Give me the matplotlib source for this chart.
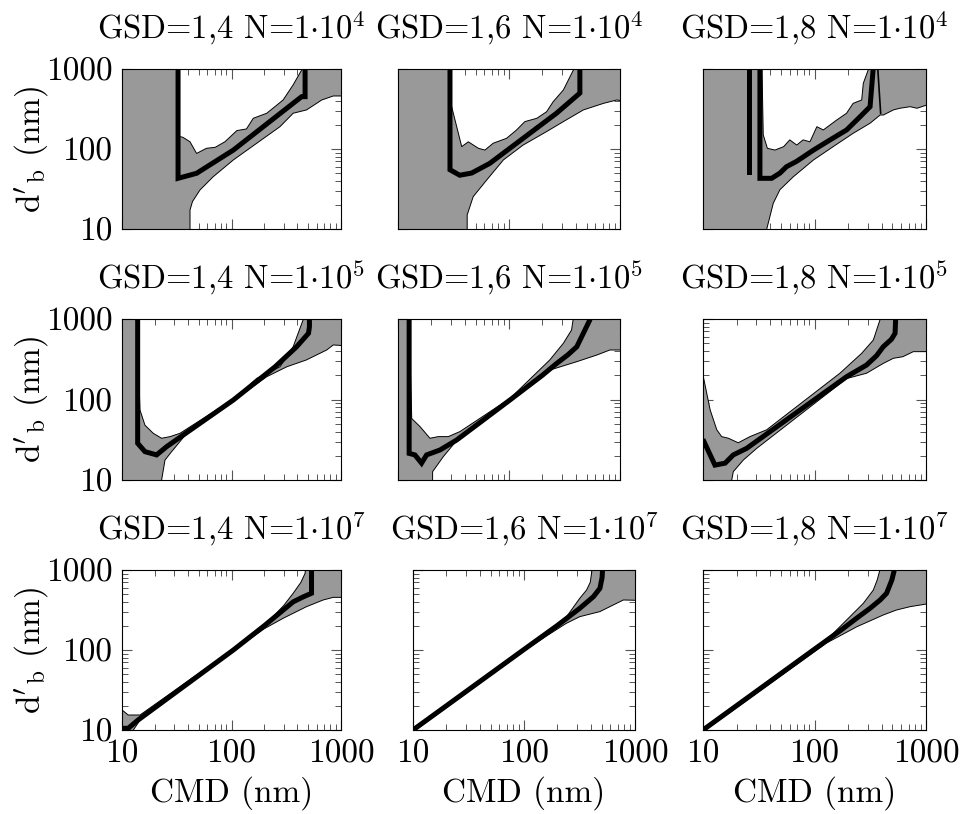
import numpy as np
import matplotlib
matplotlib.use("Agg")
import matplotlib.pyplot as plt
from matplotlib.ticker import NullFormatter

plt.rcParams["font.family"] = "cmr10"
plt.rcParams["mathtext.fontset"] = "cm"
plt.rcParams["axes.formatter.use_mathtext"] = True

# column / row descriptors
gsd_labels = ["1,4", "1,6", "1,8"]
n_exponents = ["4", "5", "7"]
tick_values = [10, 100, 1000]
tick_labels = ["10", "100", "1000"]

# ---- GSD=1,4 N=1e4
up_x_00 = [8, 32.5, 32.5, 36, 41.8, 48, 59, 71, 87, 112, 137, 158, 210, 296, 365, 437, 450, 1250]
up_y_00 = [2000, 2000, 145, 140, 123, 88, 102, 105, 123, 170, 178, 242, 280, 410, 631, 970, 2000, 2000]
lo_x_00 = [8, 41.8, 41.8, 44, 51.5, 68, 104, 170, 277, 366, 485, 667, 850, 1250]
lo_y_00 = [5, 5, 17.3, 22, 30.7, 45, 73, 118, 190, 280, 308, 410, 460, 460]
med_x_00 = [32.5, 32.5, 48, 104, 437, 470, 470]
med_y_00 = [2000, 43, 49.7, 97, 451, 451, 2000]

# ---- GSD=1,6 N=1e4
up_x_01 = [8, 29.4, 29.4, 37.5, 43, 53, 60.7, 72, 95, 117, 139, 178, 218, 250, 309, 380, 395, 1250]
up_y_01 = [2000, 2000, 410, 107, 123, 102, 97, 118, 136, 173, 220, 242, 292, 390, 547, 970, 2000, 2000]
lo_x_01 = [8, 42, 42, 47.6, 63, 89, 134, 218, 309, 468, 710, 935, 1250]
lo_y_01 = [5, 5, 15, 25.4, 41, 73, 112, 165, 220, 308, 372, 410, 385]
med_x_01 = [29.4, 29.4, 36, 46, 67, 134, 268, 435, 435]
med_y_01 = [2000, 55, 47, 50, 66, 136, 280, 500, 2000]

# ---- GSD=1,8 N=1e4
up_x_02 = [8, 33.5, 34.7, 37.8, 44.2, 52.9, 60, 69.3, 79, 91, 105, 120, 158, 194, 222, 265, 274, 303, 320, 1250]
up_y_02 = [2000, 2000, 150, 102, 97, 107, 130, 112, 130, 123, 190, 173, 230, 280, 372, 410, 663, 970, 2000, 2000]
lo_x_02 = [8, 37.3, 37.3, 42.7, 49, 64.6, 98, 147, 222, 315, 388, 415, 510, 583, 720, 830, 1250]
lo_y_02 = [5, 5, 10, 21, 31, 45, 73, 107, 157, 210, 266, 266, 308, 323, 338, 323, 390]
med_x_02a = [25.9, 25.9]
med_y_02a = [2000, 52]
med_x_02 = [32.4, 32.4, 41.3, 49, 56, 69, 98, 138, 194, 257, 315, 350]
med_y_02 = [2000, 43, 43, 50, 60, 70, 97, 130, 173, 254, 338, 2000]
med_x_02b = [358, 392]
med_y_02b = [2000, 280]

# ---- GSD=1,4 N=1e5
up_x_10 = [8, 13.4, 14.6, 16.2, 19.3, 23, 27.5, 33.8, 104, 170, 277, 366, 450, 470, 1250]
up_y_10 = [2000, 2000, 74, 48, 38, 33, 34.6, 38, 101, 183, 255, 453, 970, 2000, 2000]
lo_x_10 = [8, 23, 23, 24.7, 28.4, 39, 104, 210, 320, 483, 740, 850, 1250]
lo_y_10 = [5, 5, 10, 17.7, 22.5, 38, 96, 192, 255, 310, 412, 476, 460]
med_x_10 = [13.9, 13.9, 16.2, 20.7, 25.6, 104, 250, 392, 505, 515, 515]
med_y_10 = [2000, 28.6, 22.5, 20.5, 26, 98.6, 255, 450, 665, 800, 2000]

# ---- GSD=1,6 N=1e5
up_x_11 = [8, 12.4, 13.3, 15.8, 19.4, 23.1, 28.4, 36.2, 102, 233, 309, 366, 408, 1250]
up_y_11 = [2000, 2000, 58, 46, 33, 34.6, 34.6, 40, 103, 310, 500, 730, 2000, 2000]
lo_x_11 = [8, 20.5, 20.5, 25.6, 33.8, 102, 233, 408, 619, 810, 1250]
lo_y_11 = [5, 5, 12.7, 19.5, 31, 95, 232, 295, 357, 412, 412]
med_x_11 = [12.6, 12.6, 14.2, 16.3, 18.1, 23.9, 33.8, 102, 200, 269, 340, 408, 534, 545]
med_y_11 = [2000, 21.4, 20.5, 16.2, 20.5, 23.6, 31.4, 98.6, 200, 281, 360, 452, 970, 2000]

# ---- GSD=1,8 N=1e5
up_x_12 = [10, 11.6, 13.3, 14.7, 16.9, 20.7, 26.4, 37.2, 169, 265, 337, 386, 400, 1250]
up_y_12 = [201, 74, 42, 34.6, 33, 29, 34.6, 42, 212, 375, 548, 970, 2000, 2000]
lo_x_12 = [10, 18.1, 18.1, 18.7, 23, 30.3, 194, 293, 414, 510, 620, 770, 1250]
lo_y_12 = [5, 5, 10, 12.7, 17.7, 24.7, 182, 212, 281, 325, 340, 393, 393]
med_x_12 = [10.2, 12.8, 15.8, 18.7, 24.6, 194, 293, 360, 414, 490, 528, 545]
med_y_12 = [30, 15.3, 16.2, 20.5, 24.7, 192, 268, 350, 453, 560, 665, 2000]

# ---- GSD=1,4 N=1e7
up_x_20 = [10, 11.4, 14.6, 104, 200, 240, 300, 366, 430, 470, 490, 1250]
up_y_20 = [17.8, 15.4, 15.4, 103, 208, 262, 360, 512, 700, 910, 2000, 2000]
lo_x_20 = [10, 12.7, 12.7, 14.6, 104, 200, 296, 484, 688, 850, 1250]
lo_y_20 = [5, 5, 10, 13.3, 98, 185, 249, 348, 422, 455, 455]
med_x_20 = [10, 11.4, 14, 104, 200, 300, 366, 450, 538, 538]
med_y_20 = [10.5, 10.5, 13.3, 100, 202, 320, 400, 460, 512, 2000]

# ---- GSD=1,6 N=1e7
up_x_21 = [10, 100, 149, 200, 242, 318, 366, 395, 410, 430, 1250]
up_y_21 = [10.5, 103, 150, 205, 261, 443, 562, 700, 1000, 2000, 2000]
lo_x_21 = [10, 100, 160, 240, 318, 483, 636, 786, 1250]
lo_y_21 = [9.5, 97, 150, 215, 261, 302, 365, 422, 415]
med_x_21 = [10, 98.5, 200, 318, 422, 483, 505, 510, 510]
med_y_21 = [10, 100, 203, 332, 464, 590, 800, 1000, 2000]

# ---- GSD=1,8 N=1e7
up_x_22 = [10, 128, 194, 274, 337, 365, 386, 400, 1250]
up_y_22 = [10.5, 133, 237, 383, 562, 750, 1000, 2000, 2000]
lo_x_22 = [10, 128, 239, 414, 543, 720, 1000, 1250]
lo_y_22 = [9.5, 122, 195, 274, 316, 348, 375, 375]
med_x_22 = [10, 97.7, 180, 239, 315, 388, 443, 494, 520, 520]
med_y_22 = [10, 100, 185, 250, 332, 422, 512, 750, 1000, 2000]

panels = {
    (0, 0): (up_x_00, up_y_00, lo_x_00, lo_y_00, [(med_x_00, med_y_00)], []),
    (0, 1): (up_x_01, up_y_01, lo_x_01, lo_y_01, [(med_x_01, med_y_01)], []),
    (0, 2): (up_x_02, up_y_02, lo_x_02, lo_y_02, [(med_x_02a, med_y_02a), (med_x_02, med_y_02)],
             [(med_x_02b, med_y_02b)]),
    (1, 0): (up_x_10, up_y_10, lo_x_10, lo_y_10, [(med_x_10, med_y_10)], []),
    (1, 1): (up_x_11, up_y_11, lo_x_11, lo_y_11, [(med_x_11, med_y_11)], []),
    (1, 2): (up_x_12, up_y_12, lo_x_12, lo_y_12, [(med_x_12, med_y_12)], []),
    (2, 0): (up_x_20, up_y_20, lo_x_20, lo_y_20, [(med_x_20, med_y_20)], []),
    (2, 1): (up_x_21, up_y_21, lo_x_21, lo_y_21, [(med_x_21, med_y_21)], []),
    (2, 2): (up_x_22, up_y_22, lo_x_22, lo_y_22, [(med_x_22, med_y_22)], []),
}

W, H = 960, 814
col_left = [122, 398, 703]
col_width = [219, 222, 223]
row_top = [69, 319, 570]
row_height = [160, 161, 160]
FS = 24

fig = plt.figure(figsize=(W / 100, H / 100), dpi=100)

for (r, c), (ux, uy, lx, ly, meds, thin) in panels.items():
    left = col_left[c]
    if r == 2 and c == 1:
        left = 413
    ax = fig.add_axes([left / W, 1 - (row_top[r] + row_height[r]) / H,
                       col_width[c] / W, row_height[r] / H])
    ax.set_xscale("log")
    ax.set_yscale("log")

    px = np.concatenate([ux, lx[::-1]])
    py = np.concatenate([uy, ly[::-1]])
    ax.fill(px, py, facecolor="#999999", edgecolor="black", linewidth=0.7, zorder=2)
    for mx, my in meds:
        ax.plot(mx, my, color="black", linewidth=3.6, solid_joinstyle="miter", zorder=3)
    for mx, my in thin:
        ax.plot(mx, my, color="black", linewidth=1.2, zorder=3)

    ax.set_xlim(10, 1000)
    ax.set_ylim(10, 1000)
    ax.set_axisbelow(True)

    ax.set_xticks(tick_values, labels=tick_labels if r == 2 else ["", "", ""])
    ax.set_yticks(tick_values, labels=tick_labels if c == 0 else ["", "", ""])
    ax.xaxis.set_minor_formatter(NullFormatter())
    ax.yaxis.set_minor_formatter(NullFormatter())
    ax.tick_params(which="both", direction="in", top=True, right=True,
                   color="#555555", labelsize=FS)
    ax.tick_params(which="major", length=7, width=0.8, pad=7)
    ax.tick_params(which="minor", length=4.3, width=0.7)
    for sp in ax.spines.values():
        sp.set_linewidth(0.8)

    ax.set_title("GSD=" + gsd_labels[c] + r" N=1$\cdot$10$^{" + n_exponents[r] + "}$",
                 fontsize=23.5, pad=22)
    if c == 0:
        ax.set_ylabel(r"$\mathrm{d}'_\mathrm{b}$ (nm)", fontsize=FS)
        ax.yaxis.set_label_coords(-0.33, 0.5)
    if r == 2:
        ax.set_xlabel("CMD (nm)", fontsize=FS, va="top")
        ax.xaxis.set_label_coords(0.5, -0.29)

fig.savefig("out.png", dpi=100)
